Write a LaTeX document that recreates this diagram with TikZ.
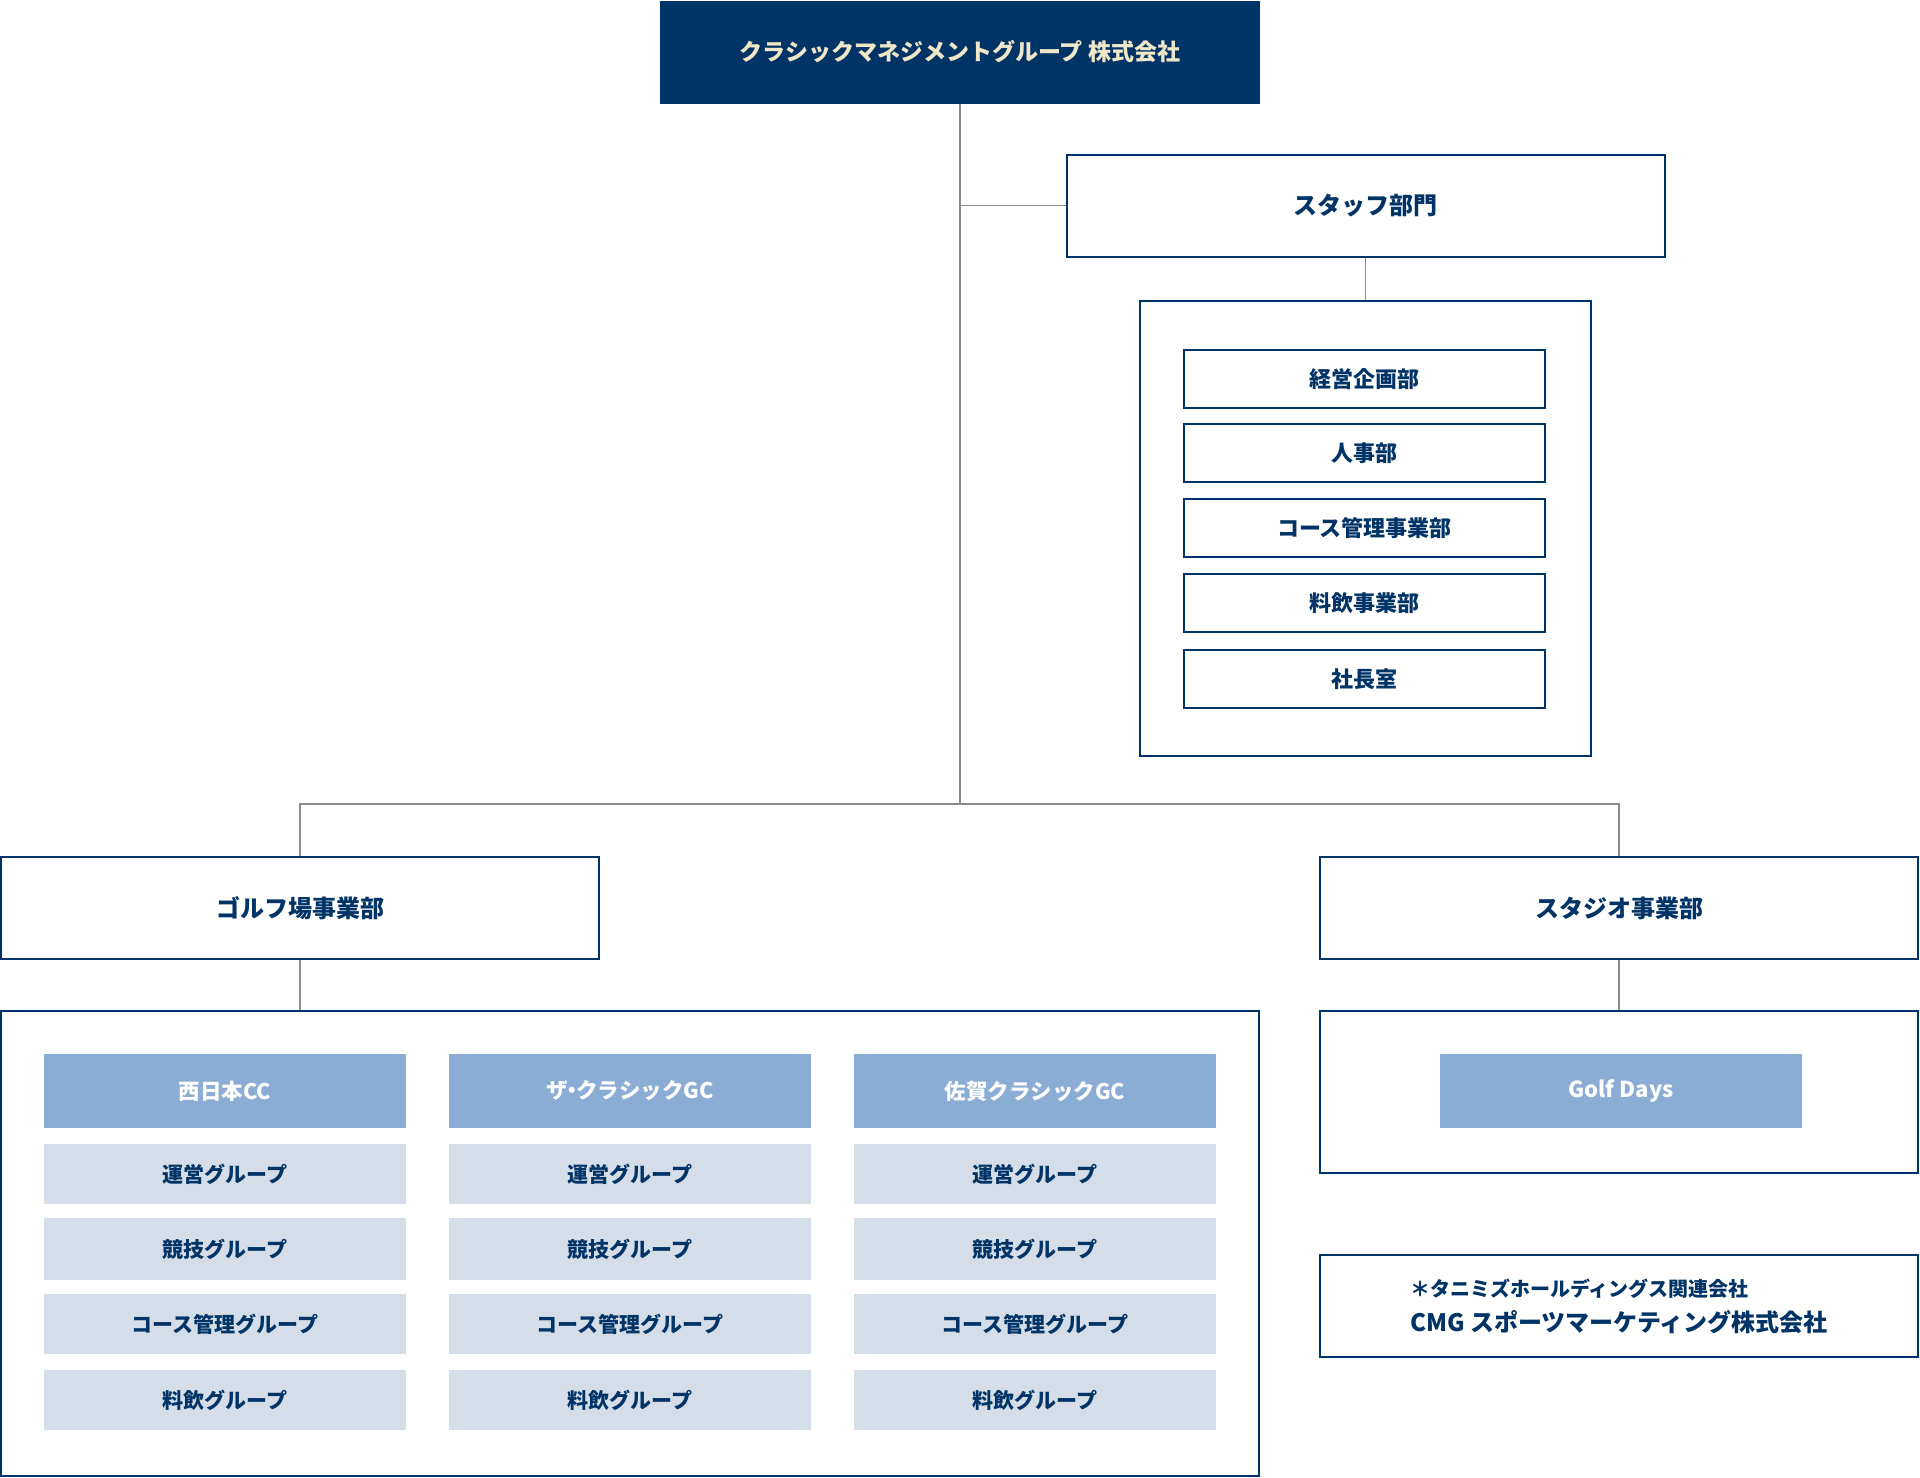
\documentclass[tikz,border=0pt]{standalone}
\usepackage{fontspec}
\setmainfont{Noto Sans CJK JP}
\definecolor{navy}{RGB}{0,51,102}
\definecolor{cream}{RGB}{240,230,200}
\definecolor{hdrblue}{RGB}{139,173,213}
\definecolor{rowblue}{RGB}{213,221,233}
\definecolor{linegray}{RGB}{140,140,140}
\begin{document}
\begin{tikzpicture}[x=1pt,y=-1pt,
  box/.style={draw=navy,line width=2pt,fill=white,inner sep=0pt,text=navy,
    font=\fontsize{24}{28}\selectfont\bfseries},
  titlebox/.style={fill=navy,inner sep=0pt,text=cream,minimum width=600pt,minimum height=103pt,
    font=\fontsize{23}{28}\selectfont\bfseries},
  bigbox/.style={box,minimum width=598pt,minimum height=102pt},
  smallbox/.style={box,minimum width=361pt,minimum height=58pt,font=\fontsize{22}{26}\selectfont\bfseries},
  frame/.style={draw=navy,line width=2pt,inner sep=0pt},
  hdr/.style={fill=hdrblue,inner sep=0pt,text=white,minimum width=362pt,minimum height=74pt,
    font=\fontsize{21.5}{25}\selectfont\bfseries},
  rowbox/.style={fill=rowblue,inner sep=0pt,text=navy,minimum width=362pt,
    font=\fontsize{21}{25}\selectfont\bfseries},
  conn/.style={draw=linegray,line width=1.6pt}]
\useasboundingbox (0,0) rectangle (1920,1478);

% top
\node[titlebox] (top) at (960,52) {クラシックマネジメントグループ 株式会社};

% staff
\node[bigbox] (staff) at (1365.5,205.5) {スタッフ部門};
\node[frame,minimum width=451pt,minimum height=455pt] (staffc) at (1365.5,528.5) {};
\node[smallbox] (s1) at (1364.5,379) {経営企画部};
\node[smallbox] (s2) at (1364.5,453) {人事部};
\node[smallbox] (s3) at (1364.5,528) {コース管理事業部};
\node[smallbox] (s4) at (1364.5,603) {料飲事業部};
\node[smallbox] (s5) at (1364.5,679) {社長室};

% divisions
\node[bigbox] (golf) at (300,908) {ゴルフ場事業部};
\node[bigbox] (studio) at (1619,908) {スタジオ事業部};

% golf container
\node[frame,minimum width=1258pt,minimum height=465pt] (golfc) at (630,1243.5) {};
\foreach \c/\x/\t in {a/225/西日本CC, b/630/ザ\kern-.3em・\kern-.3emクラシックGC, c/1035/佐賀クラシックGC}{
  \node[hdr] (hdr\c) at (\x,1091) {\t};
  \node[rowbox,minimum height=60pt] (r1\c) at (\x,1174) {運営グループ};
  \node[rowbox,minimum height=62pt] (r2\c) at (\x,1249) {競技グループ};
  \node[rowbox,minimum height=60pt] (r3\c) at (\x,1324) {コース管理グループ};
  \node[rowbox,minimum height=60pt] (r4\c) at (\x,1400) {料飲グループ};
}

% studio container
\node[frame,minimum width=598pt,minimum height=162pt] (studioc) at (1619,1092) {};
\node[hdr,minimum height=74pt,font=\fontsize{22}{26}\selectfont\bfseries] (gd) at (1621,1091) {Golf Days};

% note
\node[bigbox,align=left,font=\fontsize{24}{35}\selectfont\bfseries] (note) at (1619,1306)
  {{\fontsize{20}{35}\selectfont ＊タニミズホールディングス関連会社}\\CMG スポーツマーケティング株式会社};

% connectors
\coordinate (hub) at (top.south |- 0,804);
\draw[conn] (top.south) -- (hub);
\draw[conn] (top.south |- staff.west) -- (staff.west);
\draw[conn] (staff.south) -- (staffc.north -| staff.south);
\draw[conn] (golf.north) |- (hub) -| (studio.north);
\draw[conn] (golf.south) -- (golf.south |- golfc.north);
\draw[conn] (studio.south) -- (studio.south |- studioc.north);
\end{tikzpicture}
\end{document}
